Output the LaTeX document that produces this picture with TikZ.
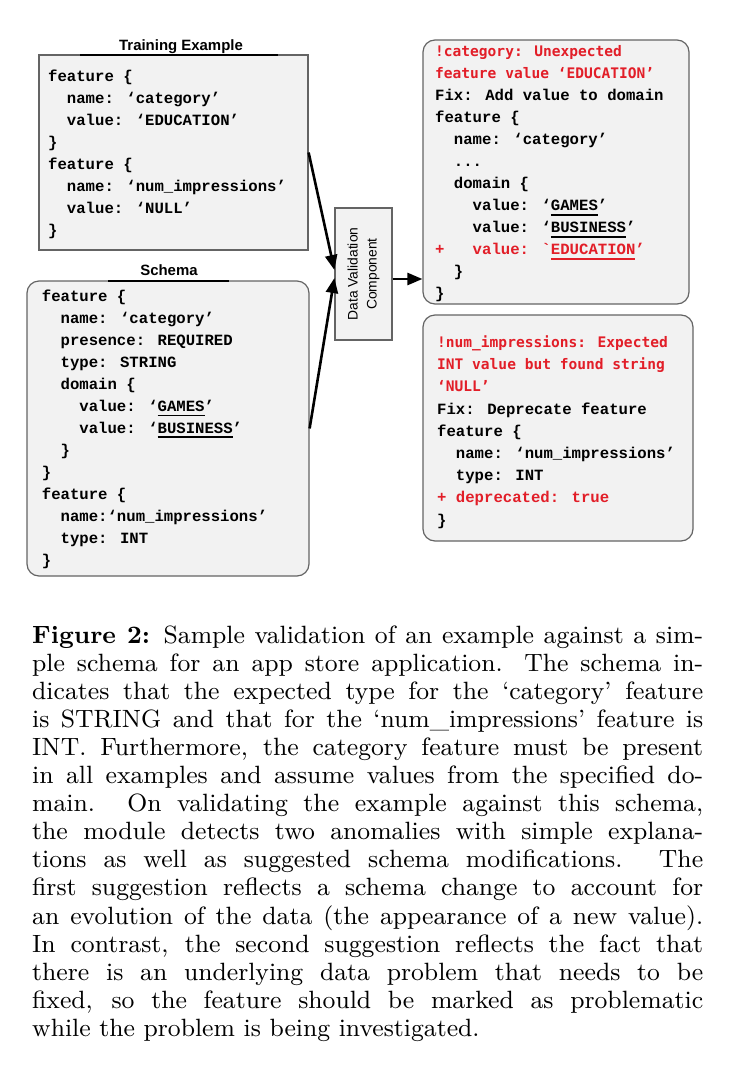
\documentclass[tikz,border=0pt]{standalone}
\usepackage{fontspec}
\usepackage{graphicx}
\usetikzlibrary{arrows.meta,calc,fit}
\newfontfamily\codefont{Liberation Mono}
\newfontfamily\hdrfont{DejaVu Sans Mono}
\newfontfamily\sansf{Liberation Sans}
\newfontfamily\capfont{lmroman9-regular.otf}[BoldFont=lmroman9-bold.otf,Ligatures=TeX]
\definecolor{boxc}{RGB}{242,242,242}
\definecolor{bordc}{RGB}{100,100,100}
\definecolor{errc}{RGB}{226,30,40}
\newcommand\ulx[1]{\setbox0=\hbox{#1}\rlap{\rule[-5bp]{\wd0}{1.8bp}}\box0}
\newcommand\codeln[1]{\hbox{#1}}
\newcommand\hdrln[1]{\hbox{\color{errc}\hdrfont\bfseries\fontsize{14.6}{18}\selectfont #1}}
\newcommand\capln[1]{\hbox to 671bp{#1}}
\tikzset{
  cbox/.style={draw=bordc, fill=boxc, line width=1.2bp, inner sep=0pt},
  code/.style={anchor=base west, inner sep=0pt, font=\codefont\bfseries\fontsize{15.7}{18}\selectfont},
  ttl/.style={anchor=base, inner sep=0pt, font=\sansf\bfseries\fontsize{15}{18}\selectfont},
  arr/.style={line width=2.6bp, -{Triangle[length=15bp,width=12bp]}},
  tline/.style={line width=2bp}
}
\begin{document}
\begin{tikzpicture}[x=1bp,y=-1bp]
\useasboundingbox (0,0) rectangle (735,1065);
% boxes
\node[cbox, fit={(39,55) (308,250)}] (train) {};
\node[cbox, rounded corners=12bp, fit={(27,281) (309,576)}] (schema) {};
\node[cbox, fit={(335,208) (392,340)}] (dvc) {};
\node[cbox, rounded corners=12bp, fit={(423,40) (689,304)}] (iss1) {};
\node[cbox, rounded corners=12bp, fit={(423,315) (693,541)}] (iss2) {};
% titles
\node[ttl] (ttrain) at (181,50.5) {Training Example};
\draw[tline] (80,55) -- (278,55);
\node[ttl] (tschema) at (169,275.5) {Schema};
\draw[tline] (108,281) -- (229,281);
% dvc label
\node[rotate=90, align=center, inner sep=0pt, font=\sansf\fontsize{13.9}{19}\selectfont] (dvclbl) at (dvc.center) {Data Validation\\Component};
% training text
\node[code] (traintxt) at (48,81.5) {\vtop{\baselineskip=22bp
\codeln{feature \{}
\codeln{~~name: ‘category’}
\codeln{~~value: ‘EDUCATION’}
\codeln{\}}
\codeln{feature \{}
\codeln{~~name: ‘num\_impressions’}
\codeln{~~value: ‘NULL’}
\codeln{\}}}};
% schema text
\node[code] (schematxt) at (41.7,301.5) {\vtop{\baselineskip=21.96bp
\codeln{feature \{}
\codeln{~~name: ‘category’}
\codeln{~~presence: REQUIRED}
\codeln{~~type: STRING}
\codeln{~~domain \{}
\codeln{~~~~value: ‘\ulx{GAMES}’}
\codeln{~~~~value: ‘\ulx{BUSINESS}’}
\codeln{~~\}}
\codeln{\}}
\codeln{feature \{}
\codeln{~~name:‘num\_impressions’}
\codeln{~~type: INT}
\codeln{\}}}};
% issue 1 text
\node[code] (iss1txt) at (435,56.5) {\vtop{\baselineskip=22bp
\hdrln{!category: Unexpected}
\hdrln{feature value ‘EDUCATION’}
\codeln{Fix: Add value to domain}
\codeln{feature \{}
\codeln{~~name: ‘category’}
\codeln{~~...}
\codeln{~~domain \{}
\codeln{~~~~value: ‘\ulx{GAMES}’}
\codeln{~~~~value: ‘\ulx{BUSINESS}’}
\codeln{\color{errc}+~~~value: `\ulx{EDUCATION}’}
\codeln{~~\}}
\codeln{\}}}};
% issue 2 text
\node[code] (iss2txt) at (437,347.5) {\vtop{\baselineskip=22.2bp
\hdrln{!num\_impressions: Expected}
\hdrln{INT value but found string}
\hdrln{‘NULL’}
\codeln{Fix: Deprecate feature}
\codeln{feature \{}
\codeln{~~name: ‘num\_impressions’}
\codeln{~~type: INT}
\codeln{\color{errc}+ deprecated: true}
\codeln{\}}}};
% arrows
\draw[arr] (train.east) -- ([yshift=4bp]dvc.west);
\draw[arr] (schema.east) -- ([yshift=-4bp]dvc.west);
\coordinate (o1) at ([yshift=-5bp]dvc.east);
\draw[arr] (o1) -- (o1 -| iss1.west);
% caption
\node[anchor=base west, inner sep=0pt, font=\capfont\fontsize{25.1}{28.1}\selectfont] (cap) at (32,643) {\vtop{\baselineskip=28.1bp
\capln{\textbf{Figure 2:} Sample validation of an example against a sim-}
\capln{ple schema for an app store application. The schema in-}
\capln{dicates that the expected type for the `category' feature}
\capln{is STRING and that for the `num\_impressions' feature is}
\capln{INT. Furthermore, the category feature must be present}
\capln{in all examples and assume values from the specified do-}
\capln{main. On validating the example against this schema,}
\capln{the module detects two anomalies with simple explana-}
\capln{tions as well as suggested schema modifications. The}
\capln{first suggestion reflects a schema change to account for}
\capln{an evolution of the data (the appearance of a new value).}
\capln{In contrast, the second suggestion reflects the fact that}
\capln{there is an underlying data problem that needs to be}
\capln{fixed, so the feature should be marked as problematic}
\hbox{while the problem is being investigated.}}};
\end{tikzpicture}
\end{document}
